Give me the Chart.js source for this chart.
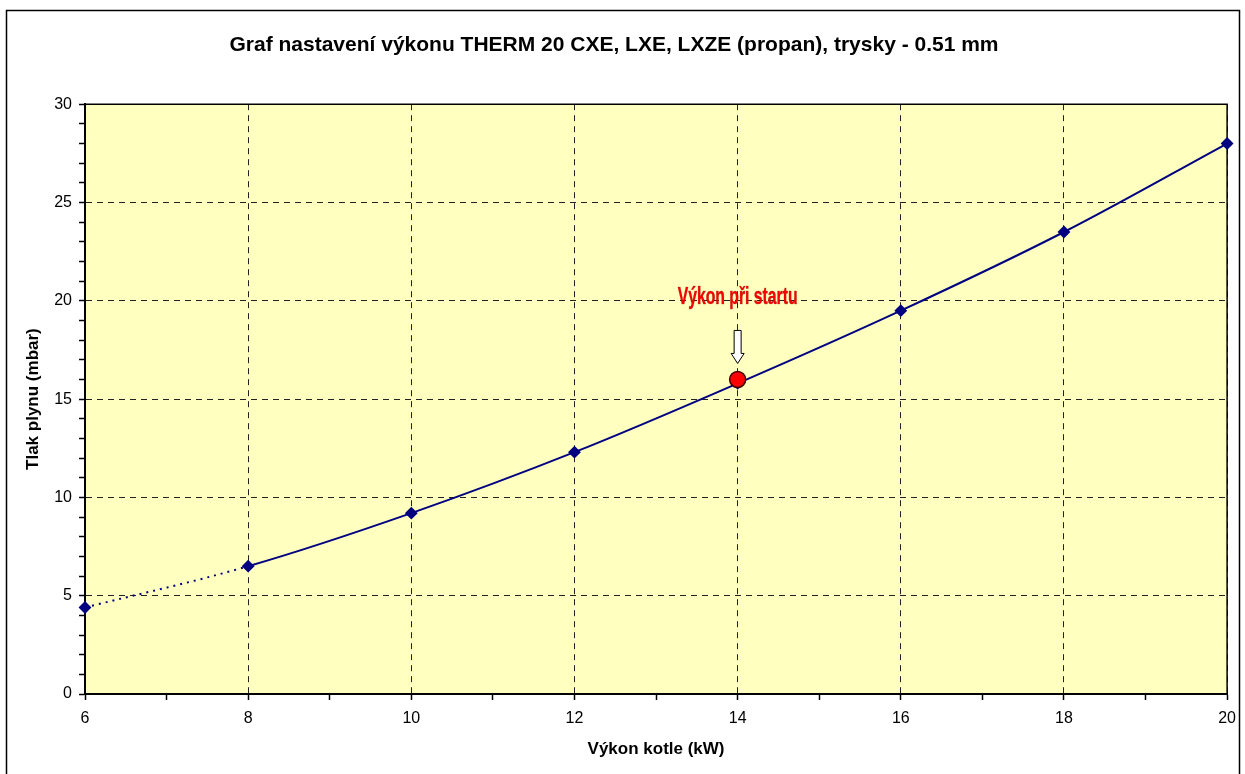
<!DOCTYPE html>
<html>
<head>
<meta charset="utf-8">
<script src="https://cdn.jsdelivr.net/npm/chart.js@4.4.1/dist/chart.umd.min.js"></script>
<style>
  html, body { margin: 0; padding: 0; background: #fff; }
  #wrap { position: relative; width: 1245px; height: 774px; }
</style>
</head>
<body>
<div id="wrap"><canvas id="graf" width="1245" height="774"></canvas></div>
<script>
// hodnoty
const vykon = [6, 8, 10, 12, 14, 16, 18, 20];
const tlak = [4.4, 6.5, 9.2, 12.3, 15.8, 19.5, 23.5, 28.0];
const startVykon = [14];
const startTlak = [16];
const startPopis = 'Výkon při startu';
const xTicks = [6, 8, 10, 12, 14, 16, 18, 20];
const yTicks = [0, 5, 10, 15, 20, 25, 30];

const FONT = '"Liberation Sans", Arial, sans-serif';

// ramecek celeho grafu + zlute pozadi plochy
const pozadi = {
    id: 'pozadi',
    beforeDraw(chart) {
        const { ctx, chartArea: a } = chart;
        ctx.save();
        ctx.fillStyle = '#fff';
        ctx.fillRect(0, 0, chart.width, chart.height);
        ctx.strokeStyle = '#000';
        ctx.lineWidth = 1.5;
        ctx.strokeRect(6.5, 10.5, 1233, 800);
        ctx.fillStyle = '#FFFFC0';
        ctx.fillRect(a.left, a.top, a.right - a.left, a.bottom - a.top);
        ctx.restore();
    },
    beforeDatasetsDraw(chart) {
        const { ctx, chartArea: a } = chart;
        ctx.save();
        ctx.strokeStyle = '#000';
        ctx.lineWidth = 1.5;
        ctx.beginPath();
        ctx.moveTo(a.left, a.top);
        ctx.lineTo(a.right, a.top);
        ctx.lineTo(a.right, a.bottom);
        ctx.stroke();
        ctx.restore();
    }
};

// sipka a popis nad bodem startu
const popisek = {
    id: 'popisek',
    afterDatasetsDraw(chart) {
        const { ctx, scales } = chart;
        const px = scales.x.getPixelForValue(startVykon[0]);
        const py = scales.y.getPixelForValue(startTlak[0]);
        ctx.save();
        // sipka
        const top = py - 49, shaftEnd = py - 26, tip = py - 16;
        ctx.beginPath();
        ctx.moveTo(px - 3.5, top);
        ctx.lineTo(px + 3.5, top);
        ctx.lineTo(px + 3.5, shaftEnd);
        ctx.lineTo(px + 6.5, shaftEnd);
        ctx.lineTo(px, tip);
        ctx.lineTo(px - 6.5, shaftEnd);
        ctx.lineTo(px - 3.5, shaftEnd);
        ctx.closePath();
        ctx.fillStyle = '#fff';
        ctx.fill();
        ctx.strokeStyle = '#000';
        ctx.lineWidth = 1;
        ctx.stroke();
        // text - zuzeny pres maxWidth
        ctx.font = 'bold 24px ' + FONT;
        ctx.textAlign = 'center';
        ctx.textBaseline = 'middle';
        ctx.fillStyle = '#FF0000';
        ctx.strokeStyle = 'rgba(120,0,0,0.5)';
        ctx.lineWidth = 0.6;
        ctx.fillText(startPopis, px, py - 82, 120);
        ctx.strokeText(startPopis, px, py - 82, 120);
        ctx.restore();
    }
};

new Chart(document.getElementById('graf'), {
    type: 'line',
    data: {
        datasets: [{
            label: 'tlak',
            data: vykon.map((v, i) => ({ x: v, y: tlak[i] })),
            borderColor: '#000080',
            borderWidth: 2,
            backgroundColor: '#000080',
            pointStyle: 'rectRot',
            pointRadius: 5,
            tension: 0.35,
            clip: false,
            order: 2,
            segment: {
                borderDash: c => c.p0DataIndex === 0 ? [2, 5] : undefined
            }
        }, {
            label: 'start',
            data: startVykon.map((v, i) => ({ x: v, y: startTlak[i] })),
            showLine: false,
            pointStyle: 'circle',
            pointRadius: 8,
            backgroundColor: '#FF0000',
            borderColor: '#400000',
            borderWidth: 1.5,
            clip: false,
            order: 1
        }]
    },
    options: {
        responsive: false,
        devicePixelRatio: 1,
        animation: false,
        layout: { padding: { left: 0, right: 17, top: 0, bottom: 0 } },
        plugins: {
            legend: { display: false },
            tooltip: { enabled: false },
            title: {
                display: true,
                text: 'Graf nastavení výkonu THERM 20 CXE, LXE, LXZE (propan), trysky - 0.51 mm',
                color: '#000',
                font: { family: FONT, size: 21, weight: 'bold', lineHeight: 1.2 },
                padding: { top: 33, bottom: 46 }
            }
        },
        scales: {
            x: {
                type: 'linear',
                min: 6,
                max: 20,
                afterFit: s => { s.height = 80; },
                ticks: {
                    stepSize: 1,
                    autoSkip: false,
                    maxRotation: 0,
                    color: '#000',
                    padding: 9,
                    font: { family: FONT, size: 16 },
                    callback: v => xTicks.includes(v) ? v : ''
                },
                grid: {
                    color: c => xTicks.includes(c.tick.value) ? '#222' : 'transparent',
                    lineWidth: 1,
                    tickColor: '#000',
                    tickLength: 6,
                    tickWidth: 1.5
                },
                border: { display: true, color: '#000', width: 2, dash: [6, 5] },
                title: {
                    display: true,
                    text: 'Výkon kotle (kW)',
                    color: '#000',
                    font: { family: FONT, size: 17, weight: 'bold', lineHeight: 1.2 },
                    padding: { top: 0, bottom: 14 }
                }
            },
            y: {
                type: 'linear',
                min: 0,
                max: 30,
                afterFit: s => { s.width = 85; },
                ticks: {
                    stepSize: 1,
                    autoSkip: false,
                    color: '#000',
                    padding: 7,
                    font: { family: FONT, size: 16 },
                    callback: v => yTicks.includes(v) ? v : ''
                },
                grid: {
                    color: c => yTicks.includes(c.tick.value) ? '#222' : 'transparent',
                    lineWidth: 1,
                    tickColor: '#000',
                    tickLength: 6,
                    tickWidth: 1.5
                },
                border: { display: true, color: '#000', width: 2, dash: [6, 5] },
                title: {
                    display: true,
                    text: 'Tlak plynu (mbar)',
                    color: '#000',
                    font: { family: FONT, size: 17, weight: 'bold', lineHeight: 1.2 },
                    padding: { top: 23, bottom: 0 }
                }
            }
        }
    },
    plugins: [pozadi, popisek]
});
</script>
</body>
</html>
